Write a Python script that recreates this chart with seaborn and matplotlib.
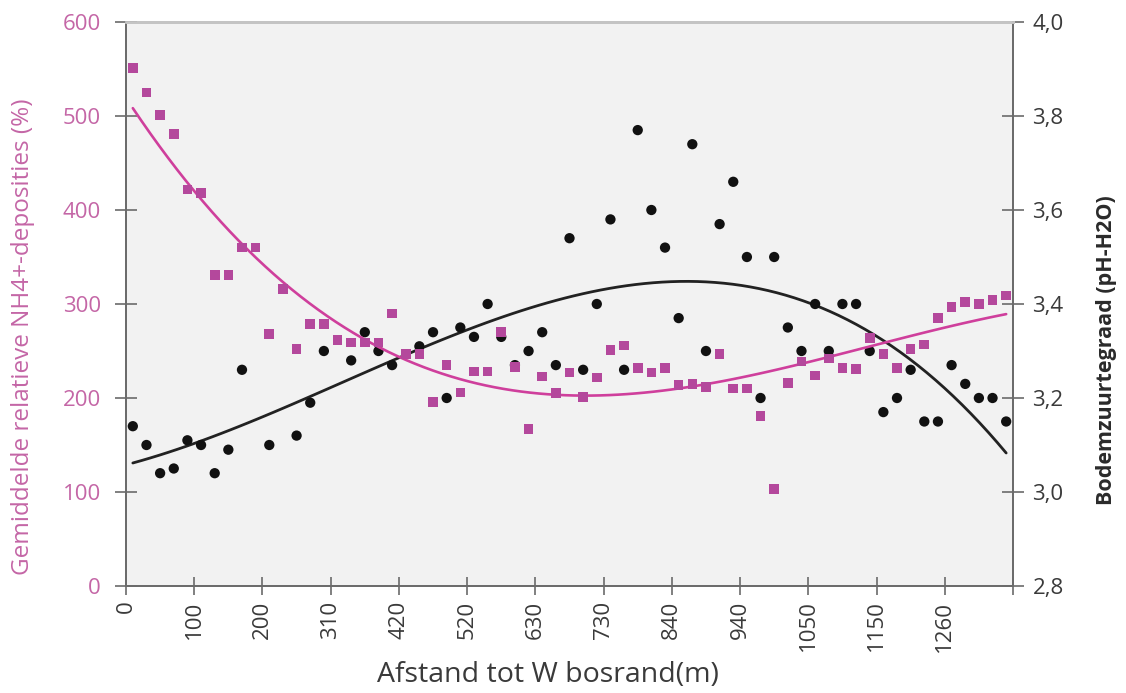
import numpy as np
import pandas as pd
import matplotlib
matplotlib.use("Agg")
import matplotlib.pyplot as plt
import seaborn as sns

# Distance labels shown on the x axis (every fifth sampling point)
tick_labels = ["0", "100", "200", "310", "420", "520", "630", "730",
               "840", "940", "1050", "1150", "1260"]

# Mean relative NH4+ deposition (%) per sampling point, west to east
nh4 = [551, 525, 501, 481, 422, 418, 331, 331, 360, 360,
       268, 316, 252, 279, 279, 262, 259, 259, 259, 290,
       247, 247, 196, 235, 206, 228, 228, 270, 233, 167,
       223, 205, 227, 201, 222, 251, 256, 232, 227, 232,
       214, 215, 212, 247, 210, 210, 181, 103, 216, 239,
       224, 242, 232, 231, 264, 247, 232, 252, 257, 285,
       297, 302, 300, 304, 309]

# Soil acidity (pH-H2O) per sampling point; NaN where no value was measured
ph = [3.14, 3.10, 3.04, 3.05, 3.11, 3.10, 3.04, 3.09, 3.26, np.nan,
      3.10, np.nan, 3.12, 3.19, 3.30, np.nan, 3.28, 3.34, 3.30, 3.27,
      np.nan, 3.31, 3.34, 3.20, 3.35, 3.33, 3.40, 3.33, 3.27, 3.30,
      3.34, 3.27, 3.54, 3.26, 3.40, 3.58, 3.26, 3.77, 3.60, 3.52,
      3.37, 3.74, 3.30, 3.57, 3.66, 3.50, 3.20, 3.50, 3.35, 3.30,
      3.40, 3.30, 3.40, 3.40, 3.30, 3.17, 3.20, 3.26, 3.15, 3.15,
      3.27, 3.23, 3.20, 3.20, 3.15]

n = len(nh4)
pos = np.arange(n) + 0.5          # points sit between category ticks
df = pd.DataFrame({"pos": pos, "nh4": nh4, "ph": ph})

PINK_MARK = "#b4489c"
PINK_LINE = "#cf3f9c"
PINK_TEXT = "#c466a6"
DARK = "#111111"
AXIS_GREY = "#6b6b6b"
TEXT_GREY = "#3a3a3a"

sns.set_theme(style="white")
plt.rcParams["font.family"] = ["Open Sans", "DejaVu Sans"]

fig = plt.figure(figsize=(11.26, 6.93), dpi=100)
ax = fig.add_axes([126 / 1126, 1 - 586 / 693, (1013 - 126) / 1126, (586 - 22) / 693])
ax2 = ax.twinx()

# pH axis sits underneath and carries the grey plot background
ax.set_zorder(ax2.get_zorder() + 1)
ax.patch.set_visible(False)
ax2.patch.set_visible(True)
ax2.set_facecolor("#f2f2f2")

# Soil pH: black dots and third-order trend
sns.scatterplot(data=df, x="pos", y="ph", ax=ax2, marker="o", s=55,
                color=DARK, edgecolor="none", zorder=3)
sns.regplot(data=df, x="pos", y="ph", ax=ax2, order=3, ci=None,
            scatter=False, truncate=True,
            line_kws={"color": "#222222", "lw": 2.0, "zorder": 2})

# NH4+ deposition: magenta squares and third-order trend
sns.scatterplot(data=df, x="pos", y="nh4", ax=ax, marker="s", s=48,
                color=PINK_MARK, edgecolor="none", zorder=3)
sns.regplot(data=df, x="pos", y="nh4", ax=ax, order=3, ci=None,
            scatter=False, truncate=True,
            line_kws={"color": PINK_LINE, "lw": 1.9, "zorder": 2})

# Axis ranges and ticks
ax.set_xlim(0, n)
ax.set_ylim(0, 600)
ax2.set_ylim(2.8, 4.0)
ax.set_yticks(np.arange(0, 601, 100))
ax2.set_yticks(np.arange(2.8, 4.01, 0.2))
ax2.set_yticklabels([f"{v:.1f}".replace(".", ",") for v in np.arange(2.8, 4.01, 0.2)])
ax.set_xticks(np.arange(0, n + 1, 5))
ax.set_xticklabels(tick_labels + [""], rotation=90)

ax.tick_params(axis="y", direction="inout", length=16, width=1.2,
               color=AXIS_GREY, labelcolor=PINK_TEXT, labelsize=16, pad=10,
               left=True)
ax.tick_params(axis="x", direction="inout", length=13, width=1.2,
               color=AXIS_GREY, labelcolor=TEXT_GREY, labelsize=16, pad=4,
               bottom=True)
ax2.tick_params(axis="y", direction="inout", length=16, width=1.2,
                color=AXIS_GREY, labelcolor=TEXT_GREY, labelsize=16, pad=6,
                right=True)

for a in (ax, ax2):
    for side in ("left", "right", "bottom"):
        a.spines[side].set_color(AXIS_GREY)
        a.spines[side].set_linewidth(1.3)
    a.spines["top"].set_color("#c4c4c4")
    a.spines["top"].set_linewidth(2.0)

ax.set_xlabel("Afstand tot W bosrand(m)", fontsize=20.5, color=TEXT_GREY)
ax.xaxis.set_label_coords((548 - 126) / 887, -(661 - 586) / 564)
ax.set_ylabel("Gemiddelde relatieve NH4+-deposities (%)", fontsize=17.5,
              color=PINK_TEXT)
ax.yaxis.set_label_coords(-(126 - 35) / 887, (586 - 337) / 564)
ax2.set_ylabel("Bodemzuurtegraad (pH-H2O)", fontsize=15.5, fontweight="bold",
               color="#2a2a2a")
ax2.yaxis.set_label_coords((1096 - 126) / 887, (586 - 350) / 564)

fig.savefig("out.png", dpi=100, facecolor="white")
